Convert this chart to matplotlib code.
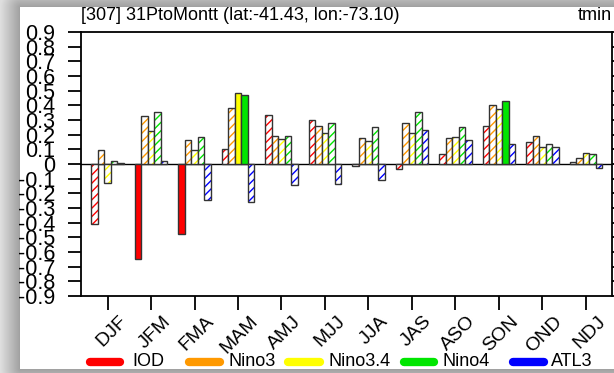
import numpy as np
import matplotlib
matplotlib.use('Agg')
import matplotlib.pyplot as plt
import matplotlib.transforms as mtransforms
from matplotlib.lines import Line2D

plt.rcParams['font.family'] = ['Liberation Sans', 'DejaVu Sans']
plt.rcParams['hatch.linewidth'] = 1.0

# data
seasons = ['DJF', 'JFM', 'FMA', 'MAM', 'AMJ', 'MJJ', 'JJA', 'JAS', 'ASO', 'SON', 'OND', 'NDJ']
series = ['IOD', 'Nino3', 'Nino3.4', 'Nino4', 'ATL3']
colors = ['#ff0000', '#ff9900', '#ffff00', '#00e600', '#0000ff']

iod    = [-0.41, -0.645, -0.48, 0.10, 0.334, 0.30, -0.016, -0.032, 0.066, 0.257, 0.152, 0.014]
nino3  = [0.093, 0.33, 0.164, 0.38, 0.193, 0.261, 0.175, 0.282, 0.18, 0.405, 0.189, 0.041]
nino34 = [-0.13, 0.223, 0.093, 0.486, 0.17, 0.209, 0.155, 0.214, 0.184, 0.377, 0.118, 0.075]
nino4  = [0.023, 0.352, 0.186, 0.468, 0.189, 0.277, 0.252, 0.355, 0.252, 0.432, 0.139, 0.066]
atl3   = [0.007, 0.023, -0.245, -0.257, -0.14, -0.138, -0.11, 0.232, 0.164, 0.136, 0.116, -0.03]

# significant (solid) bars
sig_iod    = [False, True, True, False, False, False, False, False, False, False, False, False]
sig_nino3  = [False] * 12
sig_nino34 = [False, False, False, True, False, False, False, False, False, False, False, False]
sig_nino4  = [False, False, False, True, False, False, False, False, False, True, False, False]
sig_atl3   = [False] * 12

yticks = [-0.9, -0.8, -0.7, -0.6, -0.5, -0.4, -0.3, -0.2, -0.1, 0, 0.1, 0.2, 0.3, 0.4, 0.5, 0.6, 0.7, 0.8, 0.9]
yticklabels = ['-0.9', '-0.8', '-0.7', '-0.6', '-0.5', '-0.4', '-0.3', '-0.2', '-0.1', '0',
               '0.1', '0.2', '0.3', '0.4', '0.5', '0.6', '0.7', '0.8', '0.9']
title = '[307] 31PtoMontt (lat:-41.43, lon:-73.10)'
right_title = 'tmin'

W, H = 614, 373
fig = plt.figure(figsize=(W / 100, H / 100), dpi=100)

# window shadow backdrop
bg = fig.add_axes([0, 0, 1, 1])
yy, xx = np.mgrid[0:H, 0:W]
dx = np.clip(20 - xx, 0, None)
dy = np.clip(7 - yy, 0, None) + np.clip(yy - 368, 0, None)
d = np.hypot(dx, dy)
shade = np.where(d > 0, 0.62 + 0.25 * np.clip(d / 20, 0, 1), 1.0)
bg.imshow(shade, cmap='gray', vmin=0, vmax=1, aspect='auto', interpolation='bilinear')
bg.set_axis_off()

ax = fig.add_axes([81 / W, 1 - 296 / H, (612 - 81) / W, (296 - 32) / H])
ax.set_facecolor('white')

values = [iod, nino3, nino34, nino4, atl3]
sigs = [sig_iod, sig_nino3, sig_nino34, sig_nino4, sig_atl3]
x = np.arange(len(seasons))
w = 0.15
for i, (vals, sg, c) in enumerate(zip(values, sigs, colors)):
    xi = x + (i - 2) * w
    vals = np.array(vals)
    sg = np.array(sg)
    # hatched (not significant)
    ax.bar(xi[~sg], vals[~sg], width=w, color='white', edgecolor=c, hatch='////', linewidth=0)
    ax.bar(xi[~sg], vals[~sg], width=w, fill=False, edgecolor='#333333', linewidth=1.0)
    # solid (significant)
    ax.bar(xi[sg], vals[sg], width=w, color=c, edgecolor='#333333', linewidth=1.0)

ax.axhline(0, color='black', lw=1.0, zorder=0.5)
ax.set_xlim(-0.61, 11.6)
ax.set_ylim(-0.9, 0.9)
ax.set_yticks(yticks)
ax.set_yticklabels(yticklabels, fontsize=15.5)
ax.set_xticks(x)
ax.set_xticklabels(seasons, fontsize=14, rotation=45, ha='right', va='center',
                   rotation_mode='anchor')
ax.tick_params(axis='y', direction='out', length=9.5, width=1.3, pad=9, right=True)
ax.tick_params(axis='x', direction='out', length=10, width=1.3, pad=6.5)
for sp in ax.spines.values():
    sp.set_linewidth(1.3)

# NCL puts the rotated labels a bit right of the tick
offset = mtransforms.ScaledTranslation(17 / 100, 0, fig.dpi_scale_trans)
for lab in ax.get_xticklabels():
    lab.set_transform(lab.get_transform() + offset)

ax.text(0, 1.03, title, transform=ax.transAxes, ha='left', va='bottom', fontsize=13)
ax.text(1.0, 1.03, right_title, transform=ax.transAxes, ha='right', va='bottom', fontsize=13)

# legend drawn by hand, NCL style
leg_x = [(86, 124, 132), (185, 224, 229), (284, 324, 329), (400, 438, 443), (509, 548, 551)]
ly = 1 - 362 / H
for (x0, x1, xt), name, c in zip(leg_x, series, colors):
    fig.add_artist(Line2D([(x0 + 4) / W, (x1 - 4) / W], [ly, ly], transform=fig.transFigure,
                          color=c, lw=6, solid_capstyle='round'))
    fig.text(xt / W, ly, name, ha='left', va='center', fontsize=13)

fig.savefig('out.png', dpi=100)
